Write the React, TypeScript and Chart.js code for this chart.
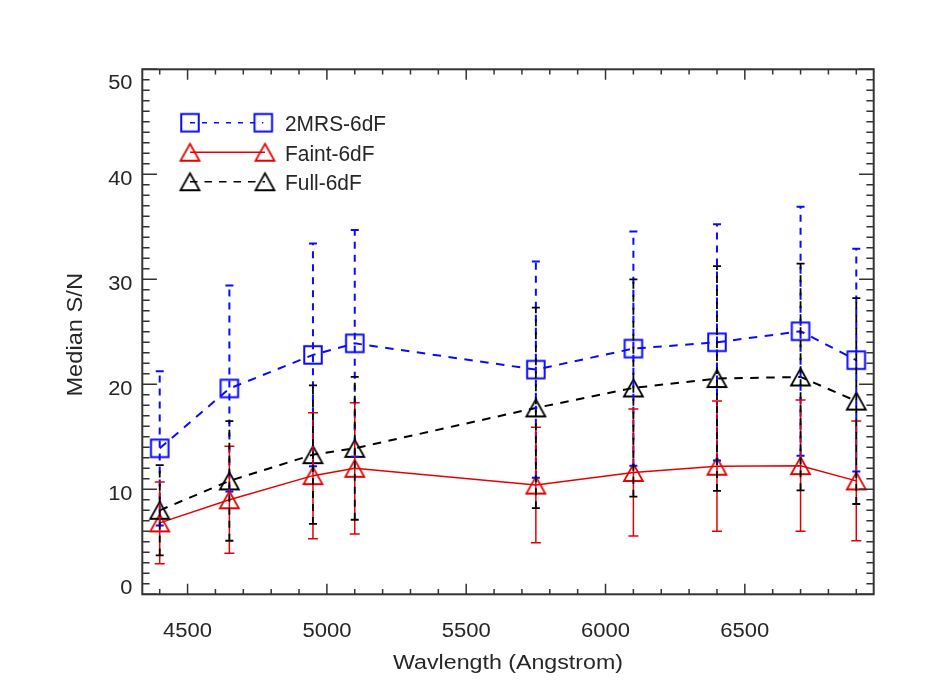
import { useEffect, useRef } from "react";
import { Chart, registerables } from "chart.js";

Chart.register(...registerables);

// ---------- data ----------
const wavelengths = [4400, 4650, 4950, 5100, 5750, 6100, 6400, 6700, 6900];

const sn2mrs = [13.9, 19.6, 22.8, 23.9, 21.4, 23.4, 24.0, 25.05, 22.3];
const err2mrs = [7.35, 9.8, 10.6, 10.8, 10.3, 11.15, 11.25, 11.85, 10.6];

const snFaint = [6.8, 9.0, 11.3, 12.0, 10.4, 11.6, 12.2, 12.25, 10.8];
const errFaint = [3.9, 5.1, 6.0, 6.25, 5.5, 6.05, 6.2, 6.25, 5.7];

const snFull = [8.0, 10.8, 13.3, 13.9, 17.75, 19.65, 20.55, 20.7, 18.4];
const errFull = [4.3, 5.7, 6.6, 6.8, 9.55, 10.35, 10.7, 10.8, 9.8];

const seriesLabels = ["2MRS-6dF", "Faint-6dF", "Full-6dF"];

const xTickValues = [4500, 5000, 5500, 6000, 6500];
const yTickValues = [0, 10, 20, 30, 40, 50];

const X_MIN = 4337.5;
const X_MAX = 6962.5;
const Y_MIN = 0;
const Y_MAX = 50;
const X_MINOR_STEP = 100;
const Y_MINOR_STEP = 1;

const xTitle = "Wavlength (Angstrom)";
const yTitle = "Median S/N";

// ---------- style ----------
const BLUE = "#0a0aff";
const RED = "#e60000";
const BLACK = "#000000";
const AXIS = "#333333";
const TEXT = "#262626";
const FONT = '"Liberation Sans", Arial, Helvetica, sans-serif';

function makeSquare(color: string, side: number, lw: number) {
  const c = document.createElement("canvas");
  const s = Math.ceil(side + lw * 2 + 2);
  c.width = s;
  c.height = s;
  const g = c.getContext("2d")!;
  g.strokeStyle = color;
  g.lineWidth = lw;
  g.strokeRect(s / 2 - side / 2, s / 2 - side / 2, side, side);
  return c;
}

function makeTriangle(color: string, w: number, h: number, lw: number) {
  const c = document.createElement("canvas");
  const s = Math.ceil(Math.max(w, h) + lw * 2 + 4);
  c.width = s;
  c.height = s;
  const g = c.getContext("2d")!;
  g.strokeStyle = color;
  g.lineWidth = lw;
  g.lineJoin = "miter";
  const cx = s / 2;
  const cy = s / 2;
  g.beginPath();
  g.moveTo(cx, cy - h / 2);
  g.lineTo(cx + w / 2, cy + h / 2);
  g.lineTo(cx - w / 2, cy + h / 2);
  g.closePath();
  g.stroke();
  return c;
}

function drawText(
  ctx: CanvasRenderingContext2D,
  text: string,
  x: number,
  y: number,
  size: number,
  stretch: number,
  align: CanvasTextAlign,
  rotate = 0
) {
  ctx.save();
  ctx.font = `${size}px ${FONT}`;
  ctx.fillStyle = TEXT;
  ctx.textAlign = align;
  ctx.textBaseline = "alphabetic";
  ctx.translate(x, y);
  if (rotate) ctx.rotate(rotate);
  ctx.scale(stretch, 1);
  ctx.fillText(text, 0, 0);
  ctx.restore();
}

export default function App() {
  const ref = useRef<HTMLCanvasElement | null>(null);

  useEffect(() => {
    if (!ref.current) return;

    const blueSquare = makeSquare(BLUE, 17.5, 2);
    const redTri = makeTriangle(RED, 19, 17, 1.8);
    const blackTri = makeTriangle(BLACK, 19, 17, 1.8);

    const errorSeries = [
      { values: sn2mrs, errors: err2mrs, color: BLUE, lw: 2, dash: [7, 6], cap: 4 },
      { values: snFaint, errors: errFaint, color: RED, lw: 1.5, dash: [], cap: 5 },
      { values: snFull, errors: errFull, color: BLACK, lw: 1.8, dash: [7, 6], cap: 4 },
    ];

    const errorBarPlugin = {
      id: "errorBars",
      afterDatasetsDraw(chart: any) {
        const ctx: CanvasRenderingContext2D = chart.ctx;
        const xs = chart.scales.x;
        const ys = chart.scales.y;
        for (const s of errorSeries) {
          ctx.save();
          ctx.strokeStyle = s.color;
          ctx.lineWidth = s.lw;
          wavelengths.forEach((w, i) => {
            const px = xs.getPixelForValue(w);
            const lo = ys.getPixelForValue(s.values[i] - s.errors[i]);
            const hi = ys.getPixelForValue(s.values[i] + s.errors[i]);
            ctx.setLineDash(s.dash);
            ctx.beginPath();
            ctx.moveTo(px, lo);
            ctx.lineTo(px, hi);
            ctx.stroke();
            ctx.setLineDash([]);
            ctx.beginPath();
            ctx.moveTo(px - s.cap, lo);
            ctx.lineTo(px + s.cap, lo);
            ctx.moveTo(px - s.cap, hi);
            ctx.lineTo(px + s.cap, hi);
            ctx.stroke();
          });
          ctx.restore();
        }
      },
    };

    const axesPlugin = {
      id: "idlAxes",
      afterDraw(chart: any) {
        const ctx: CanvasRenderingContext2D = chart.ctx;
        const { left, right, top, bottom } = chart.chartArea;
        const xs = chart.scales.x;
        const ys = chart.scales.y;
        const w = right - left;
        const h = bottom - top;

        ctx.save();
        ctx.strokeStyle = AXIS;
        ctx.lineWidth = 1.5;
        ctx.beginPath();
        const xStart = Math.ceil(X_MIN / X_MINOR_STEP);
        const xEnd = Math.floor(X_MAX / X_MINOR_STEP);
        for (let k = xStart; k <= xEnd; k++) {
          const v = k * X_MINOR_STEP;
          const px = xs.getPixelForValue(v);
          const major = xTickValues.includes(v);
          const len = major ? 0.02 * h : 0.01 * h;
          ctx.moveTo(px, bottom);
          ctx.lineTo(px, bottom - len);
          ctx.moveTo(px, top);
          ctx.lineTo(px, top + len);
        }
        const yStart = Math.ceil(Y_MIN / Y_MINOR_STEP);
        const yEnd = Math.floor(Y_MAX / Y_MINOR_STEP);
        for (let k = yStart; k <= yEnd; k++) {
          const v = k * Y_MINOR_STEP;
          const py = ys.getPixelForValue(v);
          const major = yTickValues.includes(v);
          const len = major ? 0.02 * w : 0.01 * w;
          ctx.moveTo(left, py);
          ctx.lineTo(left + len, py);
          ctx.moveTo(right, py);
          ctx.lineTo(right - len, py);
        }
        ctx.stroke();
        ctx.lineWidth = 2;
        ctx.strokeRect(left, top, w, h);
        ctx.restore();

        // tick labels
        xTickValues.forEach((v) => {
          drawText(ctx, String(v), xs.getPixelForValue(v), bottom + 42.4, 19.5, 1.13, "center");
        });
        yTickValues.forEach((v, i) => {
          let off = 11;
          if (i === 0) off = 0;
          if (i === yTickValues.length - 1) off = 20;
          drawText(ctx, String(v), left - 9.8, ys.getPixelForValue(v) + off, 19.5, 1.12, "right");
        });

        // titles
        drawText(ctx, xTitle, (left + right) / 2, bottom + 74.2, 20, 1.16, "center");
        drawText(ctx, yTitle, 82.3, (top + bottom) / 2 + 3, 21.5, 1.1, "center", -Math.PI / 2);

        // legend
        const legendRows = [
          { img: blueSquare, color: BLUE, dash: [5, 7], lw: 1.6, y: 122.7, x2: 263.3 },
          { img: redTri, color: RED, dash: [], lw: 1.5, y: 152.2, x2: 265 },
          { img: blackTri, color: BLACK, dash: [7.5, 7], lw: 1.6, y: 181.7, x2: 265 },
        ];
        const x1 = 190;
        legendRows.forEach((r, i) => {
          ctx.save();
          ctx.strokeStyle = r.color;
          ctx.lineWidth = r.lw;
          ctx.setLineDash(r.dash);
          ctx.beginPath();
          ctx.moveTo(x1, r.y);
          ctx.lineTo(r.x2, r.y);
          ctx.stroke();
          ctx.restore();
          ctx.drawImage(r.img, x1 - r.img.width / 2, r.y - r.img.height / 2);
          ctx.drawImage(r.img, r.x2 - r.img.width / 2, r.y - r.img.height / 2);
          drawText(ctx, seriesLabels[i], 285, r.y + 8.4, 22, 0.95, "left");
        });
      },
    };

    const toPoints = (ys: number[]) => wavelengths.map((x, i) => ({ x, y: ys[i] }));

    const chart = new Chart(ref.current, {
      type: "line",
      data: {
        datasets: [
          {
            label: seriesLabels[2],
            data: toPoints(snFull),
            borderColor: BLACK,
            borderWidth: 2,
            borderDash: [8.5, 7.5],
            pointStyle: blackTri as any,
            pointRadius: 10,
            fill: false,
            tension: 0,
          },
          {
            label: seriesLabels[1],
            data: toPoints(snFaint),
            borderColor: RED,
            borderWidth: 1.5,
            pointStyle: redTri as any,
            pointRadius: 10,
            fill: false,
            tension: 0,
          },
          {
            label: seriesLabels[0],
            data: toPoints(sn2mrs),
            borderColor: BLUE,
            borderWidth: 2,
            borderDash: [8.5, 7.5],
            pointStyle: blueSquare as any,
            pointRadius: 10,
            fill: false,
            tension: 0,
          },
        ],
      },
      options: {
        animation: false,
        responsive: false,
        maintainAspectRatio: false,
        layout: { padding: { left: 142.3, right: 76.3, top: 69.3, bottom: 105.7 } },
        scales: {
          x: { type: "linear", min: X_MIN, max: X_MAX, display: false },
          y: { type: "linear", min: Y_MIN, max: Y_MAX, display: false },
        },
        plugins: {
          legend: { display: false },
          tooltip: { enabled: false },
        },
        events: [],
      },
      plugins: [errorBarPlugin, axesPlugin],
    });

    return () => chart.destroy();
  }, []);

  return (
    <div style={{ position: "fixed", left: 0, top: 0, width: 950, height: 700, background: "#ffffff" }}>
      <canvas ref={ref} width={950} height={700} style={{ width: 950, height: 700, display: "block" }} />
    </div>
  );
}
